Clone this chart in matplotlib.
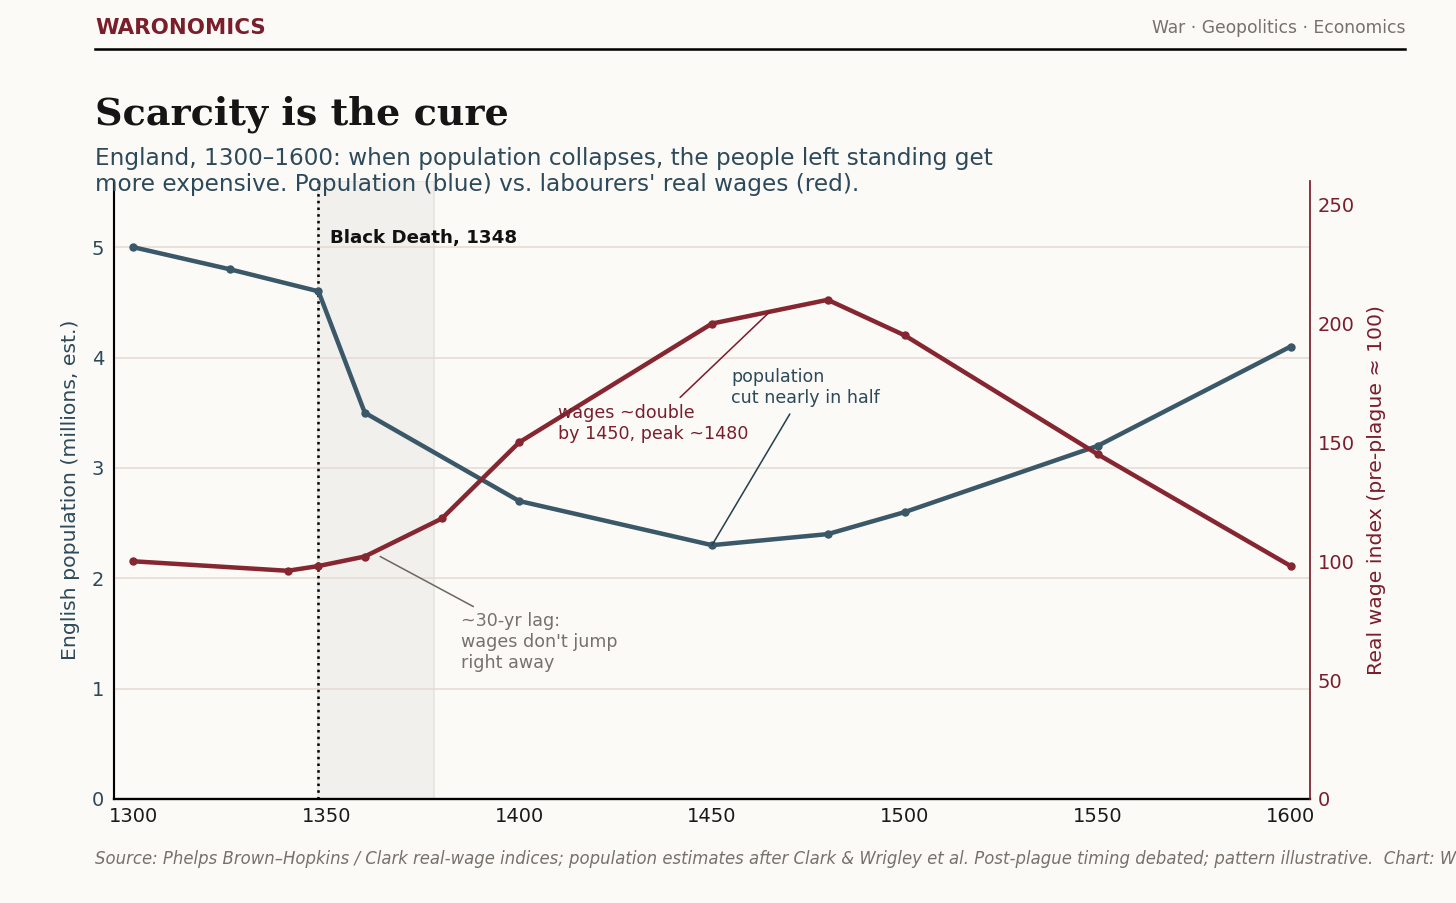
import matplotlib.pyplot as plt

# population (millions) and real wage index, England 1300-1600
years_pop = [1300, 1325, 1348, 1360, 1400, 1450, 1480, 1500, 1550, 1600]
population = [5.0, 4.8, 4.6, 3.5, 2.7, 2.3, 2.4, 2.6, 3.2, 4.1]

years_wage = [1300, 1340, 1348, 1360, 1380, 1400, 1450, 1480, 1500, 1550, 1600]
real_wage = [100, 96, 98, 102, 118, 150, 200, 210, 195, 145, 98]

plague_year = 1348
plague_end = 1378
x_ticks = [1300, 1350, 1400, 1450, 1500, 1550, 1600]
pop_ticks = [0, 1, 2, 3, 4, 5]
wage_ticks = [0, 50, 100, 150, 200, 250]

BG = '#fbfaf7'
BLUE = '#3a5868'
BLUE_TXT = '#2d4a5a'
RED = '#852631'
RED_TXT = '#7b1e2c'
GREY = '#77716b'

plt.rcParams['font.family'] = ['DejaVu Sans']

fig = plt.figure(figsize=(10.4, 6.45), dpi=140, facecolor=BG)
ax = fig.add_axes([0.0783, 0.1152, 0.8214, 0.6844])
ax.set_facecolor(BG)

ax.axvspan(plague_year, plague_end, facecolor='#f1f0ed', edgecolor='#e6e3de', lw=0.8, zorder=0)
ax.axvline(plague_year, color='black', ls=':', lw=1.3, zorder=2)
ax.plot(years_pop, population, color=BLUE, lw=2.3, marker='o', ms=3.3, zorder=3)

ax.set_xlim(1295, 1605)
ax.set_ylim(0, 5.6)
ax.set_xticks(x_ticks)
ax.set_yticks(pop_ticks)
ax.grid(axis='y', color='#e6dbd3', lw=0.8)
ax.set_axisbelow(True)
ax.tick_params(axis='both', length=0, labelsize=10)
ax.tick_params(axis='y', colors=BLUE_TXT, pad=5)
ax.tick_params(axis='x', colors='#1a1a1a', pad=4)
ax.set_ylabel('English population (millions, est.)', color=BLUE_TXT, fontsize=10.5, labelpad=6)
for s in ['top', 'right']:
    ax.spines[s].set_visible(False)
ax.spines['left'].set_linewidth(1.1)
ax.spines['bottom'].set_linewidth(1.2)

ax.text(plague_year + 3, 5.08, 'Black Death, 1348', fontsize=9.4, fontweight='bold',
        va='center', color='#111111')

ax.annotate('population\ncut nearly in half', xy=(1450, 2.3), xytext=(1455, 3.73),
            fontsize=9, color=BLUE_TXT, va='center', ha='left',
            arrowprops=dict(arrowstyle='-', color='#27404e', lw=0.8, shrinkB=0))

ax2 = ax.twinx()
ax2.plot(years_wage, real_wage, color=RED, lw=2.3, marker='o', ms=3.3, zorder=3)
ax2.set_ylim(0, 260)
ax2.set_yticks(wage_ticks)
ax2.tick_params(axis='y', length=0, labelsize=10, colors=RED_TXT, pad=4)
ax2.set_ylabel('Real wage index (pre-plague ≈ 100)', color=RED_TXT, fontsize=10.5, labelpad=6)
for s in ['top', 'left', 'bottom']:
    ax2.spines[s].set_visible(False)
ax2.spines['right'].set_color(RED_TXT)
ax2.spines['right'].set_linewidth(0.9)

ax2.annotate('wages ~double\nby 1450, peak ~1480', xy=(1465, 205), xytext=(1410, 158),
             fontsize=9, color=RED_TXT, va='center', ha='left',
             arrowprops=dict(arrowstyle='-', color=RED_TXT, lw=0.8, shrinkB=0))
ax2.annotate("~30-yr lag:\nwages don't jump\nright away", xy=(1364, 102), xytext=(1385, 66),
             fontsize=9, color=GREY, va='center', ha='left',
             arrowprops=dict(arrowstyle='-', color='#6e6862', lw=0.8, shrinkB=0))

# header
fig.text(0.0652, 0.969, 'WARONOMICS', fontsize=11, fontweight='bold', color=RED_TXT, va='center')
fig.text(0.965, 0.969, 'War · Geopolitics · Economics', fontsize=8.8, color=GREY, va='center', ha='right')
fig.add_artist(plt.Line2D([0.0652, 0.965], [0.9457, 0.9457], color='black', lw=1.3))

fig.text(0.0652, 0.8616, 'Scarcity is the cure', family='DejaVu Serif', fontweight='bold',
         fontsize=19.6, color='#151515', va='baseline')
fig.text(0.0652, 0.837, 'England, 1300–1600: when population collapses, the people left standing get\n'
         "more expensive. Population (blue) vs. labourers' real wages (red).",
         fontsize=11.9, color=BLUE_TXT, va='top', linespacing=1.15)

fig.text(0.0652, 0.0487, 'Source: Phelps Brown–Hopkins / Clark real-wage indices; population estimates after '
         'Clark & Wrigley et al. Post-plague timing debated; pattern illustrative.  Chart: Waronomics',
         fontsize=8.5, style='italic', color=GREY, va='center')

fig.savefig('out.png', dpi=140, facecolor=BG)
